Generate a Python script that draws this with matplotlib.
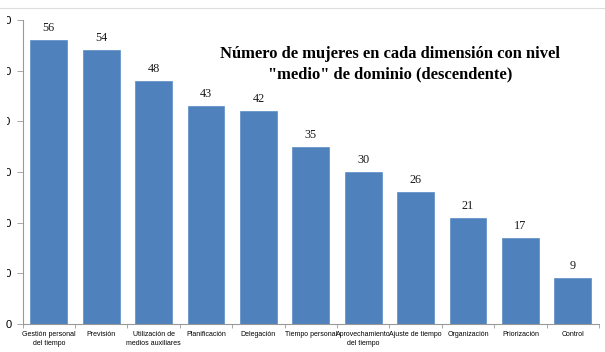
import matplotlib
matplotlib.use("Agg")
import matplotlib.pyplot as plt
import numpy as np
from matplotlib.lines import Line2D
from matplotlib.patches import Rectangle

categories = ["Gestión personal\ndel tiempo", "Previsión", "Utilización de\nmedios auxiliares",
              "Planificación", "Delegación", "Tiempo personal", "Aprovechamiento\ndel tiempo",
              "Ajuste de tiempo", "Organización", "Priorización", "Control"]
values = [56, 54, 48, 43, 42, 35, 30, 26, 21, 17, 9]
yticks = [0, 10, 20, 30, 40, 50, 60]
title = "Número de mujeres en cada dimensión con nivel\n\"medio\" de dominio (descendente)"

fig = plt.figure(figsize=(6.05, 3.52), dpi=100)
ax = fig.add_axes([22.6/605, 28/352, (599-22.6)/605, (324-20)/352])

x = np.arange(len(categories))
ax.bar(x, values, width=0.7, color="#4F81BD", edgecolor="#5B8CC6", linewidth=0.5)
for xi, v in zip(x, values):
    ax.text(xi, v + 1.2, str(v), ha="center", va="bottom", fontsize=8.8,
            family="Liberation Serif", color="#1a1a1a")

ax.set_xlim(-0.5, len(categories) - 0.5)
ax.set_ylim(0, 60)
ax.set_yticks(yticks)
ax.set_yticklabels([str(t) for t in yticks], fontsize=8, family="Liberation Sans")
ax.set_xticks(x)
ax.set_xticklabels(categories, fontsize=5.0, family="Liberation Sans", linespacing=1.45)
ax.tick_params(axis="x", length=0, pad=5)
ax.set_xticks(np.arange(-0.5, len(categories)), minor=True)
ax.tick_params(axis="x", which="minor", length=3, color="#999999", width=0.6)
ax.tick_params(axis="y", length=4, color="#999999", width=0.6, pad=4)
for s in ["top", "right"]:
    ax.spines[s].set_visible(False)
for s in ["left", "bottom"]:
    ax.spines[s].set_color("#999999")
    ax.spines[s].set_linewidth(0.8)

fig.text(390/605, 1 - 64/352, title, ha="center", va="center", fontsize=11.9,
         fontweight="bold", family="Liberation Serif", linespacing=1.4)

fig.add_artist(Line2D([0, 1], [1 - 8/352, 1 - 8/352], transform=fig.transFigure,
                      color="#dddddd", linewidth=0.8))
# the reference image is cropped on its left side
fig.add_artist(Rectangle((0, 1 - 318/352), 7/605, 305/352, transform=fig.transFigure,
                         facecolor="white", edgecolor="none", zorder=10))

fig.savefig("out.png", dpi=100)
